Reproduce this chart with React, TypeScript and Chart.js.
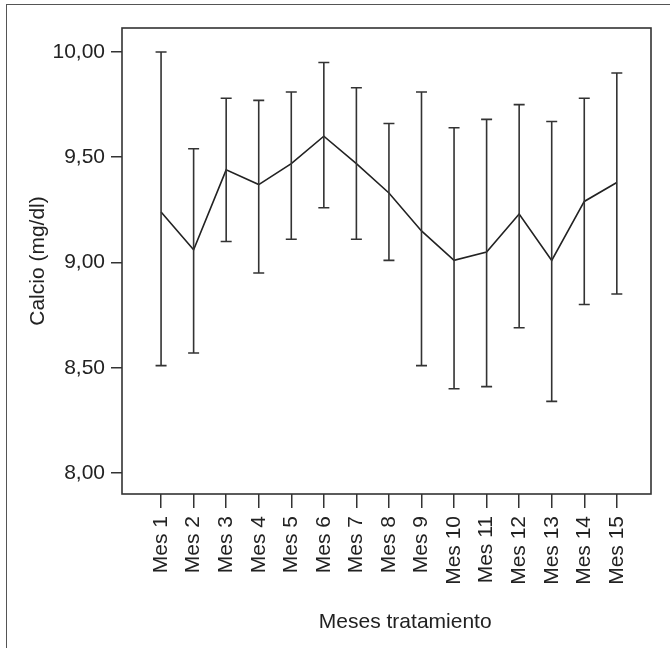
import { useEffect, useRef } from 'react'
import { Chart, registerables } from 'chart.js'

Chart.register(...registerables)

const MONTHS = ['Mes 1', 'Mes 2', 'Mes 3', 'Mes 4', 'Mes 5', 'Mes 6', 'Mes 7', 'Mes 8', 'Mes 9', 'Mes 10', 'Mes 11', 'Mes 12', 'Mes 13', 'Mes 14', 'Mes 15']
const MEANS = [9.24, 9.06, 9.44, 9.37, 9.47, 9.6, 9.47, 9.33, 9.15, 9.01, 9.05, 9.23, 9.01, 9.29, 9.38]
const UPPER = [10.0, 9.54, 9.78, 9.77, 9.81, 9.95, 9.83, 9.66, 9.81, 9.64, 9.68, 9.75, 9.67, 9.78, 9.9]
const LOWER = [8.51, 8.57, 9.1, 8.95, 9.11, 9.26, 9.11, 9.01, 8.51, 8.4, 8.41, 8.69, 8.34, 8.8, 8.85]
const Y_TICKS = [8, 8.5, 9, 9.5, 10]
const X_TITLE = 'Meses tratamiento'
const Y_TITLE = 'Calcio (mg/dl)'

const FONT = '"Liberation Sans", Arial, sans-serif'
const FONT_SIZE = 21
const INK = '#222'
const LINE = '#333'

// error bars, plot frame and the x title (SPSS puts it a bit off centre)
const errorBars = {
  id: 'errorBars',
  afterDatasetsDraw(chart: any) {
    const { ctx, chartArea, scales } = chart
    const x = scales.x
    const y = scales.y
    ctx.save()
    ctx.strokeStyle = '#333'
    ctx.lineWidth = 1.6
    MEANS.forEach((_, i) => {
      const px = x.getPixelForValue(i + 1)
      const top = y.getPixelForValue(UPPER[i])
      const bot = y.getPixelForValue(LOWER[i])
      ctx.beginPath()
      ctx.moveTo(px, top)
      ctx.lineTo(px, bot)
      ctx.moveTo(px - 5.5, top)
      ctx.lineTo(px + 5.5, top)
      ctx.moveTo(px - 5.5, bot)
      ctx.lineTo(px + 5.5, bot)
      ctx.stroke()
    })
    ctx.strokeStyle = LINE
    ctx.strokeRect(chartArea.left, chartArea.top, chartArea.width, chartArea.height)
    ctx.fillStyle = INK
    ctx.font = `${FONT_SIZE}px ${FONT}`
    ctx.textAlign = 'center'
    ctx.textBaseline = 'middle'
    ctx.fillText(X_TITLE, x.getPixelForValue(8.5), 622)
    ctx.restore()
  },
}

export default function App() {
  const canvasRef = useRef<HTMLCanvasElement>(null)
  const chartRef = useRef<Chart | null>(null)

  useEffect(() => {
    if (!canvasRef.current) return
    if (chartRef.current) chartRef.current.destroy()

    chartRef.current = new Chart(canvasRef.current, {
      type: 'line',
      data: {
        datasets: [
          {
            data: MEANS.map((m, i) => ({ x: i + 1, y: m })),
            borderColor: INK,
            borderWidth: 1.6,
            pointRadius: 0,
            tension: 0,
            fill: false,
          },
        ],
      },
      options: {
        animation: false,
        responsive: true,
        maintainAspectRatio: false,
        layout: { padding: { top: 28, right: 19, left: 0, bottom: 0 } },
        plugins: {
          legend: { display: false },
          tooltip: { enabled: false },
        },
        scales: {
          x: {
            type: 'linear',
            min: -0.2,
            max: 16.05,
            afterBuildTicks: (scale: any) => {
              scale.ticks = MONTHS.map((_, i) => ({ value: i + 1 }))
            },
            afterFit: (scale: any) => {
              scale.height = 154
            },
            border: { display: false },
            grid: {
              display: true,
              drawOnChartArea: false,
              drawTicks: true,
              tickLength: 14,
              color: LINE,
              lineWidth: 1.5,
            },
            ticks: {
              autoSkip: false,
              minRotation: 90,
              maxRotation: 90,
              padding: 8,
              color: INK,
              font: { family: FONT, size: FONT_SIZE },
              callback: (v: any) => MONTHS[Number(v) - 1] ?? '',
            },
          },
          y: {
            type: 'linear',
            min: 7.9,
            max: 10.114,
            afterBuildTicks: (scale: any) => {
              scale.ticks = Y_TICKS.map((v) => ({ value: v }))
            },
            afterFit: (scale: any) => {
              scale.width = 122
            },
            border: { display: false },
            grid: {
              display: true,
              drawOnChartArea: false,
              drawTicks: true,
              tickLength: 11,
              color: LINE,
              lineWidth: 1.5,
            },
            ticks: {
              padding: 6,
              color: INK,
              font: { family: FONT, size: FONT_SIZE },
              callback: (v: any) => Number(v).toFixed(2).replace('.', ','),
            },
            title: {
              display: true,
              text: Y_TITLE,
              color: INK,
              font: { family: FONT, size: FONT_SIZE },
              padding: { top: 26, bottom: 0 },
            },
          },
        },
      },
      plugins: [errorBars],
    })

    return () => {
      chartRef.current?.destroy()
      chartRef.current = null
    }
  }, [])

  return (
    <div style={{ position: 'absolute', left: 0, top: 0, width: 670, height: 648, overflow: 'hidden', background: '#fff' }}>
      <div
        style={{
          position: 'absolute',
          left: 6,
          top: 4,
          width: 700,
          height: 700,
          borderTop: '1.5px solid #555',
          borderLeft: '1.5px solid #555',
        }}
      />
      <div style={{ position: 'absolute', left: 0, top: 0, width: 670, height: 648 }}>
        <canvas ref={canvasRef} />
      </div>
    </div>
  )
}
